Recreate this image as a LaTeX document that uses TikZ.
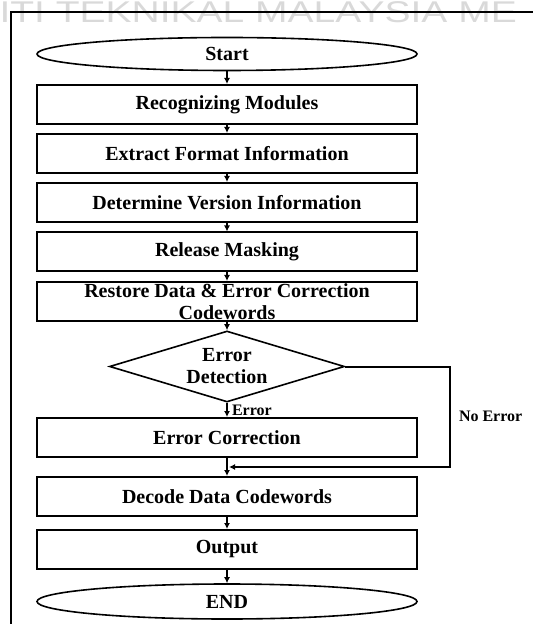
\documentclass[tikz,border=0pt]{standalone}
\usepackage{fontspec}
\setmainfont{Liberation Serif}
\newfontfamily\wmfont{Liberation Sans}
\usetikzlibrary{shapes.geometric,arrows.meta}
\tikzset{
  procbox/.style={draw, line width=1pt, rectangle, minimum width=190pt, minimum height=19.5pt,
    inner sep=0pt, font=\bfseries\fontsize{10}{11}\selectfont, align=center},
  termbox/.style={draw, line width=0.8pt, ellipse, minimum width=190pt, minimum height=16.5pt,
    inner sep=0pt, font=\bfseries\fontsize{10}{11}\selectfont},
  decbox/.style={draw, line width=0.8pt, diamond, aspect=3.3, minimum width=117.5pt, minimum height=35.5pt,
    inner sep=0pt, font=\bfseries\fontsize{10}{11}\selectfont, align=center},
  arr/.style={line width=1pt, -{Latex[length=3pt,width=3pt]}},
  lbl/.style={font=\bfseries\fontsize{8}{9}\selectfont, inner sep=0pt}
}
\begin{document}
\begin{tikzpicture}[x=0.5pt,y=-0.5pt]
\useasboundingbox (0,0) rectangle (533,624);
\clip (0,0) rectangle (533,624);
% watermark and frame
\node (wm) [anchor=west, inner sep=0pt, xscale=1.3, text=gray!30, font=\wmfont\fontsize{15}{16}\selectfont] at (-1,12) {ITI TEKNIKAL MALAYSIA ME};
\draw [line width=1pt] (11,624) -- (11,12) -- (540,12);
% steps
\node (start) [termbox] at (227,54) {Start};
\node (recog) [procbox] at (227,104.5) {Recognizing Modules};
\node (fmt) [procbox] at (227,153.5) {Extract Format Information};
\node (ver) [procbox] at (227,202.5) {Determine Version Information};
\node (mask) [procbox] at (227,252) {Release Masking};
\node (restore) [procbox] at (227,301.5) {Restore Data \& Error Correction\\Codewords};
\node (detect) [decbox] at (227,366.5) {Error\\Detection};
\node (corr) [procbox] at (227,437.5) {Error Correction};
\node (dec) [procbox] at (227,496.5) {Decode Data Codewords};
\node (out) [procbox] at (227,549.5) {Output};
\node (end) [termbox, minimum height=17.5pt] at (227,601.5) {END};
\coordinate (join) at (227,467);
\coordinate (loop) at (450,467);
% connectors
\draw [arr] (start) -- (recog);
\draw [arr] (recog) -- (fmt);
\draw [arr] (fmt) -- (ver);
\draw [arr] (ver) -- (mask);
\draw [arr] (mask) -- (restore);
\draw [arr] (restore) -- (detect);
\draw [arr] (detect) -- node [lbl, right=2pt] {Error} (corr);
\draw [arr] (corr) -- (dec);
\draw [arr] (detect.east) -| node [lbl, pos=0.75, right=4pt] {No Error} (loop) -- ([xshift=1pt]join);
\draw [arr] (dec) -- (out);
\draw [arr] (out) -- (end);
\end{tikzpicture}
\end{document}
